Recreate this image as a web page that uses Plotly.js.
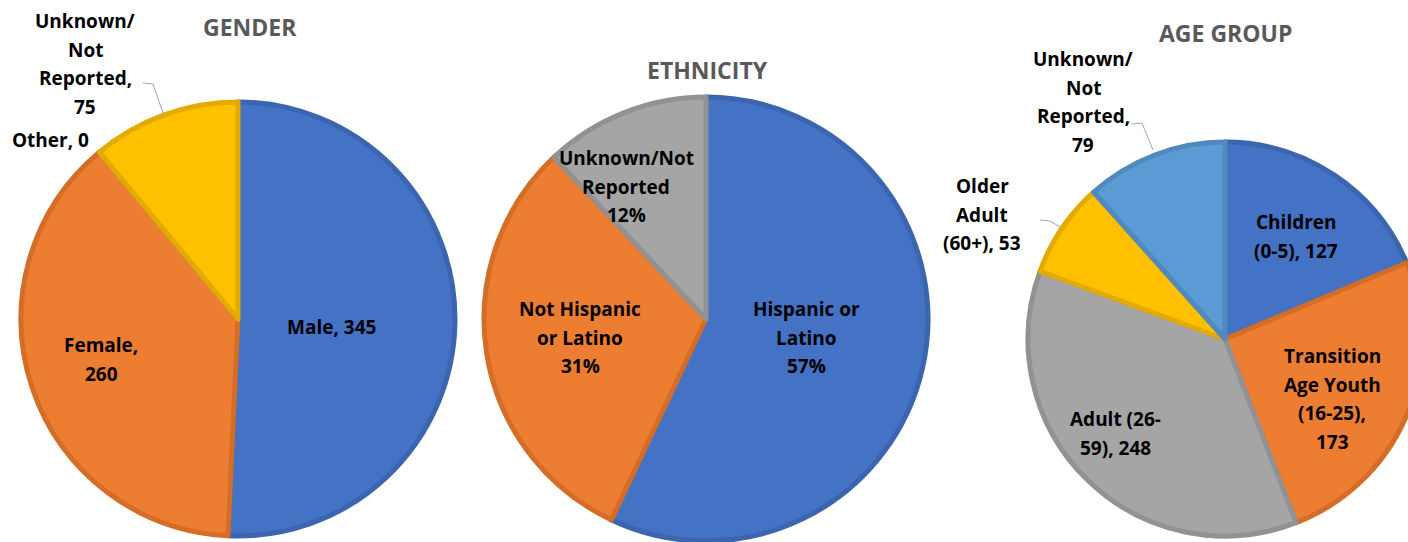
<!DOCTYPE html>
<html>
<head>
<meta charset="utf-8">
<script src="https://cdn.plot.ly/plotly-3.0.1.min.js"></script>
<style>
html,body{margin:0;padding:0;overflow:hidden;background:#fff;}
#chart{width:1430px;height:560px;}
</style>
</head>
<body>
<div id="chart"></div>
<script>
// ---------------- DATA ----------------
const genderCategories = ['Male', 'Female', 'Other', 'Unknown/Not Reported'];
const genderValues = [345, 260, 0, 75];
const genderLabelLines = [['Male, {v}'], ['Female,', '{v}'], ['Other, {v}'], ['Unknown/', 'Not', 'Reported,', '{v}']];

const ethnicityCategories = ['Hispanic or Latino', 'Not Hispanic or Latino', 'Unknown/Not Reported'];
const ethnicityValues = [57, 31, 12];
const ethnicityLabelLines = [['Hispanic or', 'Latino', '{v}%'], ['Not Hispanic', 'or Latino', '{v}%'], ['Unknown/Not', 'Reported', '{v}%']];

const ageCategories = ['Children (0-5)', 'Transition Age Youth (16-25)', 'Adult (26-59)', 'Older Adult (60+)', 'Unknown/Not Reported'];
const ageValues = [127, 173, 248, 53, 79];
const ageLabelLines = [['Children', '(0-5), {v}'], ['Transition', 'Age Youth', '(16-25),', '{v}'], ['Adult (26-', '59), {v}'], ['Older', 'Adult', '(60+), {v}'], ['Unknown/', 'Not', 'Reported,', '{v}']];

const chartTitles = ['GENDER', 'ETHNICITY', 'AGE GROUP'];

// ---------------- STYLE / LAYOUT ----------------
const W = 1430, H = 560;
const px = x => x / W;
const py = y => 1 - y / H;

const BLUE = '#4472C4', ORANGE = '#ED7D31', GRAY = '#A5A5A5', YELLOW = '#FFC000', LBLUE = '#5B9BD5';
const BLUE_D = '#3C65AF', ORANGE_D = '#D36D28', GRAY_D = '#929292', YELLOW_D = '#E3AA00', LBLUE_D = '#4F89BE';

const FONT = '"Open Sans", Lato, "DejaVu Sans", sans-serif';

function pie(values, labels, colors, lineColors, dom) {
  return {
    type: 'pie', values: values, labels: labels, sort: false,
    direction: 'clockwise', rotation: 0, textinfo: 'none', hoverinfo: 'label+value',
    showlegend: false,
    marker: {colors: colors, line: {color: lineColors, width: 5}},
    domain: {x: [px(dom[0]), px(dom[1])], y: [py(dom[3]), py(dom[2])]}
  };
}

const traces = [
  pie(genderValues, genderCategories, [BLUE, ORANGE, GRAY, YELLOW], [BLUE_D, ORANGE_D, GRAY_D, YELLOW_D], [21, 455, 102, 536]),
  pie(ethnicityValues, ethnicityCategories, [BLUE, ORANGE, GRAY], [BLUE_D, ORANGE_D, GRAY_D], [484, 928, 97, 541]),
  pie(ageValues, ageCategories, [BLUE, ORANGE, GRAY, YELLOW, LBLUE], [BLUE_D, ORANGE_D, GRAY_D, YELLOW_D, LBLUE_D], [1028, 1422, 142, 536])
];

// label anchor positions: [center x, first-line y] per slice
const genderLabelPos = [[331, 326], [101, 344], [51, 139], [85, 20]];
const ethnicityLabelPos = [[806, 308], [580, 308], [626, 157]];
const ageLabelPos = [[1296, 221], [1332, 355], [1115, 418], [982, 185], [1083, 58]];
const titlePos = [[250, 26], [707, 69], [1225, 32]];
const LINE_GAP = 28.5;

const annotations = [];
function addLabels(lines, values, pos) {
  lines.forEach((ls, i) => {
    ls.forEach((t, j) => {
      annotations.push({
        xref: 'paper', yref: 'paper', x: px(pos[i][0]), y: py(pos[i][1] + j * LINE_GAP + 1),
        xanchor: 'center', yanchor: 'middle', showarrow: false,
        text: t.replace('{v}', values[i]),
        font: {family: FONT, size: 19, color: '#000', weight: 'bold'}
      });
    });
  });
}
addLabels(genderLabelLines, genderValues, genderLabelPos);
addLabels(ethnicityLabelLines, ethnicityValues, ethnicityLabelPos);
addLabels(ageLabelLines, ageValues, ageLabelPos);
chartTitles.forEach((t, i) => {
  annotations.push({
    xref: 'paper', yref: 'paper', x: px(titlePos[i][0]), y: py(titlePos[i][1] + 1),
    xanchor: 'center', yanchor: 'middle', showarrow: false, text: t,
    font: {family: FONT, size: 23, color: '#595959', weight: 'bold'}
  });
});

function leader(pts) {
  return {
    type: 'path', xref: 'paper', yref: 'paper',
    path: 'M' + pts.map(p => px(p[0]) + ',' + py(p[1])).join(' L'),
    line: {color: '#A6A6A6', width: 1}
  };
}
const shapes = [
  leader([[143, 83], [153, 84], [163, 113]]),
  leader([[1132, 124], [1142, 123], [1153, 150]]),
  leader([[1040, 220], [1050, 221], [1060, 227]])
];

const layout = {
  width: W, height: H,
  margin: {l: 0, r: 0, t: 0, b: 0},
  paper_bgcolor: '#fff', plot_bgcolor: '#fff',
  annotations: annotations, shapes: shapes,
  showlegend: false
};

Plotly.newPlot('chart', traces, layout, {displayModeBar: false, staticPlot: true});
</script>
</body>
</html>
